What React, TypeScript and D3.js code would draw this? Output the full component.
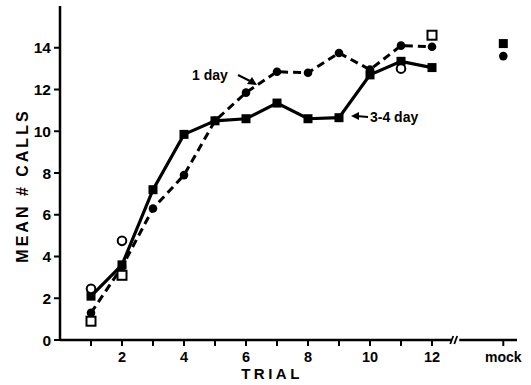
import React from 'react';
import * as d3 from 'd3';

const trials = [1, 2, 3, 4, 5, 6, 7, 8, 9, 10, 11, 12];
const oneDay = [1.3, 3.5, 6.3, 7.9, 10.5, 11.85, 12.85, 12.8, 13.75, 12.95, 14.1, 14.05];
const threeFourDay = [2.1, 3.6, 7.2, 9.85, 10.5, 10.6, 11.35, 10.6, 10.65, 12.7, 13.35, 13.05];
const openCircles = [[1, 2.45], [2, 4.75], [11, 13.0]];
const openSquares = [[1, 0.9], [2, 3.1], [12, 14.6]];
const mockOneDay = 13.6;
const mockThreeFour = 14.2;
const yTicks = [0, 2, 4, 6, 8, 10, 12, 14];
const xLabels = [2, 4, 6, 8, 10, 12];

const W = 531, H = 385;
const font = "'Liberation Sans', Arial, sans-serif";

export default function App() {
    const x = d3.scaleLinear().domain([0, 12]).range([60, 432]);
    const y = d3.scaleLinear().domain([0, 16]).range([340, 6]);
    const mockX = x(14.3);
    const breakX = x(12.75);

    const lineGen = d3.line<number>()
        .x((d, i) => x(trials[i]))
        .y(d => y(d));

    const sq = 9;

    return (
        <svg width={W} height={H} style={{ position: 'absolute', left: 0, top: 0, background: '#fff' }}
            fontFamily={font} fontWeight="bold">
            {/* axes */}
            <line x1={x(0)} x2={x(0)} y1={y(16)} y2={y(0) + 1} stroke="#000" strokeWidth={2.5} />
            <line x1={x(0)} x2={breakX - 4} y1={y(0)} y2={y(0)} stroke="#000" strokeWidth={2.5} />
            <line x1={breakX + 4} x2={517} y1={y(0)} y2={y(0)} stroke="#000" strokeWidth={2.5} />
            <line x1={breakX - 5} x2={breakX - 2} y1={y(0) + 4} y2={y(0) - 4} stroke="#000" strokeWidth={1.8} />
            <line x1={breakX - 1} x2={breakX + 2} y1={y(0) + 4} y2={y(0) - 4} stroke="#000" strokeWidth={1.8} />
            {yTicks.map(t => (
                <g key={t}>
                    <line x1={x(0) - 6} x2={x(0)} y1={y(t)} y2={y(t)} stroke="#000" strokeWidth={2} />
                    <text x={x(0) - 9} y={y(t) + 5.5} textAnchor="end" fontSize={15.5}>{t}</text>
                </g>
            ))}
            {trials.map(t => (
                <line key={t} x1={x(t)} x2={x(t)} y1={y(0)} y2={y(0) + 6} stroke="#000" strokeWidth={2} />
            ))}
            <line x1={mockX} x2={mockX} y1={y(0)} y2={y(0) + 6} stroke="#000" strokeWidth={2} />
            {xLabels.map(t => (
                <text key={t} x={x(t)} y={y(0) + 22} textAnchor="middle" fontSize={14.5}>{t}</text>
            ))}
            <text x={mockX} y={y(0) + 22} textAnchor="middle" fontSize={14}>mock</text>
            <text x={272} y={379} textAnchor="middle" fontSize={15} letterSpacing={3.5}>TRIAL</text>
            <text transform={`translate(28, ${y(7.4)}) rotate(-90)`} textAnchor="middle" fontSize={16} letterSpacing={3}>MEAN # CALLS</text>

            {/* series */}
            <path d={lineGen(oneDay) || ''} fill="none" stroke="#000" strokeWidth={3} strokeDasharray="8,5" />
            <path d={lineGen(threeFourDay) || ''} fill="none" stroke="#000" strokeWidth={3.2} />
            {threeFourDay.map((v, i) => (
                <rect key={i} x={x(trials[i]) - sq / 2} y={y(v) - sq / 2} width={sq} height={sq} fill="#000" />
            ))}
            {oneDay.map((v, i) => (
                <circle key={i} cx={x(trials[i])} cy={y(v)} r={4.3} fill="#000" />
            ))}
            {openCircles.map(([t, v], i) => (
                <circle key={i} cx={x(t)} cy={y(v)} r={4.3} fill="#fff" stroke="#000" strokeWidth={2} />
            ))}
            {openSquares.map(([t, v], i) => (
                <rect key={i} x={x(t) - 4.5} y={y(v) - 4.5} width={9} height={9} fill="#fff" stroke="#000" strokeWidth={2} />
            ))}
            <rect x={mockX - sq / 2} y={y(mockThreeFour) - sq / 2} width={sq} height={sq} fill="#000" />
            <circle cx={mockX} cy={y(mockOneDay)} r={4.3} fill="#000" />

            {/* annotations */}
            <text x={192} y={80} fontSize={14}>1 day</text>
            <line x1={238} x2={254} y1={75} y2={83} stroke="#000" strokeWidth={2} />
            <path d="M257,85 L247,84 L252,77 Z" fill="#000" />
            <text x={370} y={122} fontSize={14}>3-4 day</text>
            <line x1={356} x2={368} y1={116} y2={117} stroke="#000" strokeWidth={2} />
            <path d="M351,116 L359,112 L359,120 Z" fill="#000" />
        </svg>
    );
}
